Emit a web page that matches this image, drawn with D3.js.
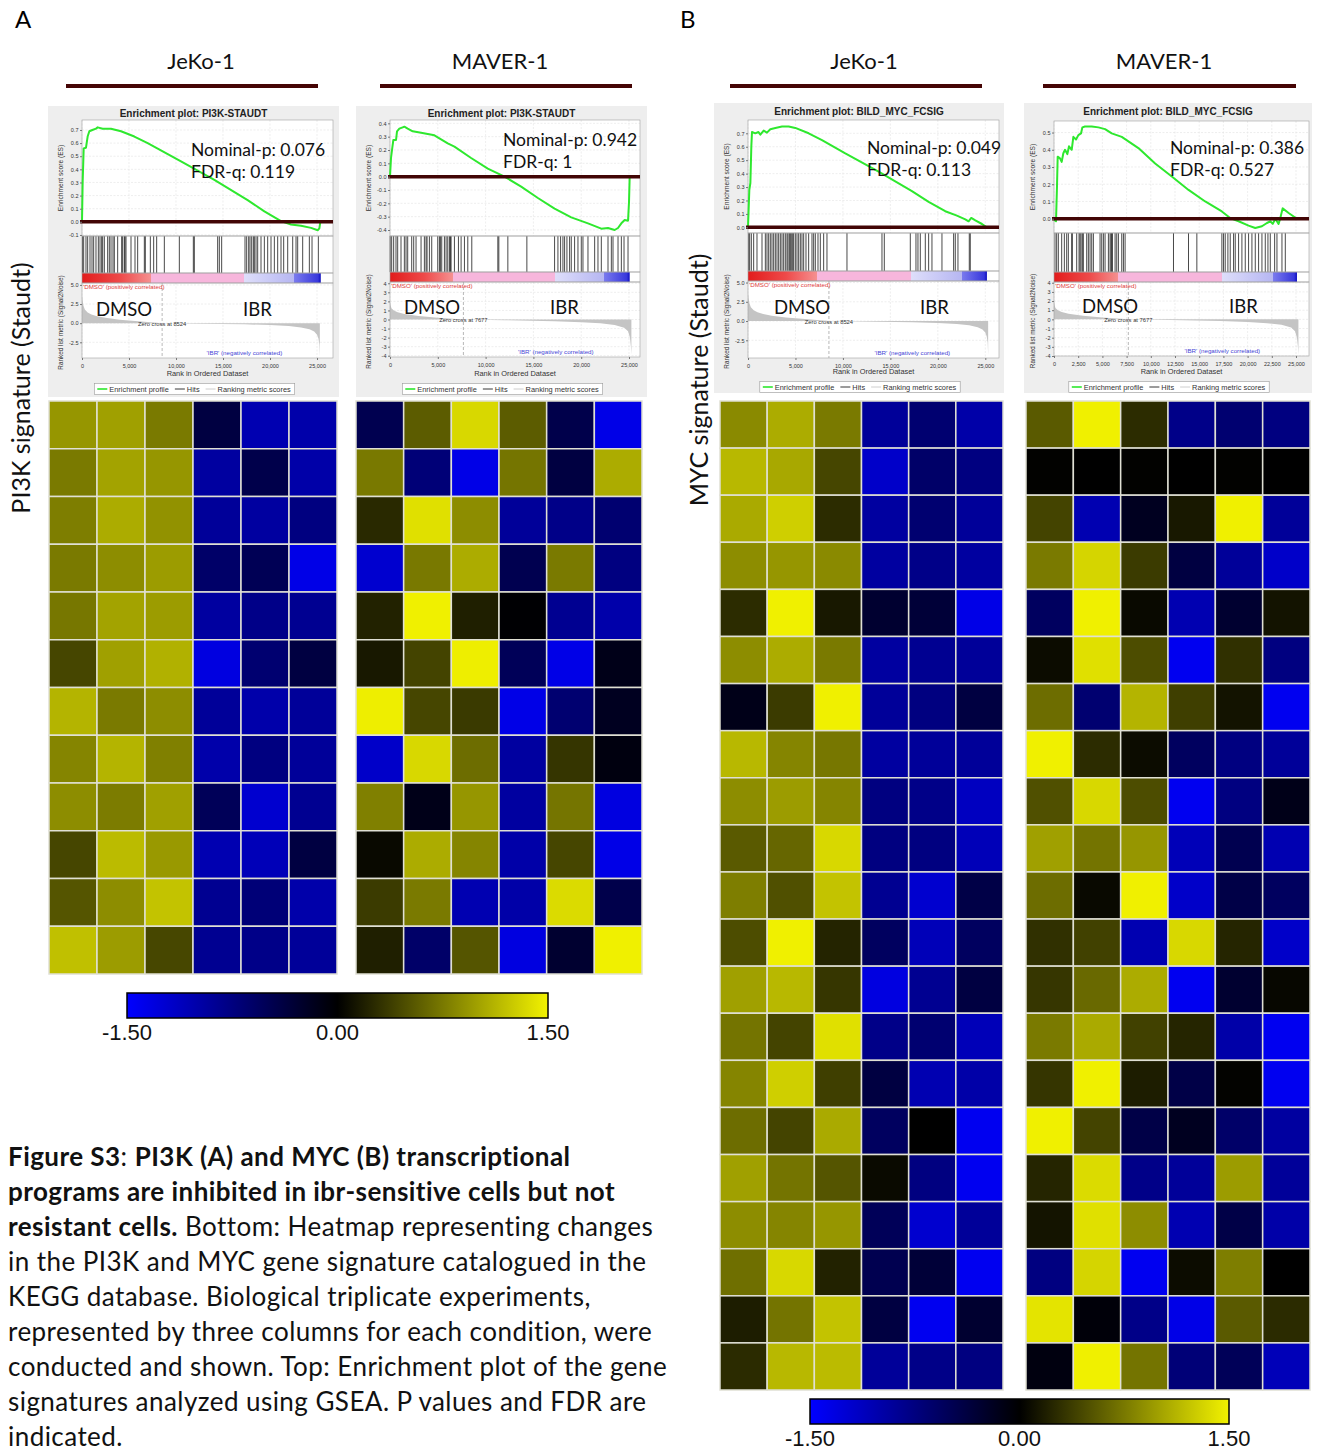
<!DOCTYPE html>
<html>
<head>
<meta charset="utf-8">
<script src="https://cdn.jsdelivr.net/npm/d3@7"></script>
<style>
  body { margin: 0; background: #fff; }
  svg { display: block; }
</style>
</head>
<body>
<div id="fig"></div>
<script>
// ---------- data ----------
var heatCols = ["DMSO 1", "DMSO 2", "DMSO 3", "IBR 1", "IBR 2", "IBR 3"];
var scaleTicks = [-1.5, 0, 1.5];

var heatPi3kJeko = [
  [0.88, 0.94, 0.72, -0.38, -1.04, -1.00],
  [0.72, 0.96, 0.88, -0.94, -0.44, -0.99],
  [0.74, 1.01, 0.86, -0.90, -0.94, -0.75],
  [0.72, 0.83, 0.92, -0.61, -0.50, -1.36],
  [0.70, 0.96, 0.92, -0.94, -0.80, -0.85],
  [0.41, 0.94, 1.04, -1.32, -0.66, -0.38],
  [1.06, 0.72, 0.83, -0.90, -1.00, -0.90],
  [0.78, 1.06, 0.75, -1.00, -0.75, -0.90],
  [0.83, 0.73, 0.94, -0.52, -1.22, -0.85],
  [0.41, 1.10, 0.90, -1.04, -1.08, -0.38],
  [0.50, 0.83, 1.15, -0.85, -0.70, -1.00],
  [1.13, 0.92, 0.42, -0.85, -0.80, -0.90]
];
var heatPi3kMaver = [
  [-0.47, 0.54, 1.27, 0.54, -0.44, -1.36],
  [0.71, -0.70, -1.36, 0.69, -0.38, 1.01],
  [0.24, 1.32, 0.83, -0.90, -0.80, -0.66],
  [-1.22, 0.71, 1.01, -0.47, 0.72, -0.75],
  [0.20, 1.41, 0.18, -0.02, -0.85, -1.00],
  [0.14, 0.40, 1.40, -0.52, -1.36, -0.14],
  [1.40, 0.41, 0.34, -1.36, -0.66, -0.19],
  [-1.18, 1.27, 0.64, -0.94, 0.31, -0.09],
  [0.75, -0.14, 0.88, -0.94, 0.69, -1.32],
  [0.05, 1.01, 0.78, -0.99, 0.41, -1.36],
  [0.35, 0.72, -1.04, -0.99, 1.29, -0.44],
  [0.18, -0.61, 0.50, -1.32, -0.28, 1.41]
];
var heatMycJeko = [
  [0.81, 1.01, 0.72, -0.90, -0.66, -0.99],
  [1.08, 0.99, 0.41, -1.18, -0.61, -0.75],
  [1.00, 1.22, 0.26, -0.94, -0.66, -0.90],
  [0.83, 0.88, 0.81, -0.94, -0.80, -0.94],
  [0.26, 1.41, 0.14, -0.28, -0.33, -1.36],
  [0.83, 1.01, 0.72, -0.94, -0.85, -0.90],
  [-0.14, 0.35, 1.41, -0.90, -0.75, -0.38],
  [1.08, 0.78, 0.70, -0.94, -0.90, -0.90],
  [0.83, 0.92, 0.78, -0.75, -0.80, -1.13],
  [0.53, 0.60, 1.27, -0.75, -0.75, -1.08],
  [0.74, 0.47, 1.15, -0.85, -1.22, -0.42],
  [0.45, 1.41, 0.21, -0.56, -1.08, -0.56],
  [0.94, 1.08, 0.32, -1.32, -0.85, -0.38],
  [0.68, 0.40, 1.32, -0.80, -0.66, -1.08],
  [0.78, 1.22, 0.37, -0.38, -1.04, -0.99],
  [0.64, 0.40, 1.00, -0.56, 0.00, -1.41],
  [0.94, 0.68, 0.50, 0.06, -0.75, -1.41],
  [0.83, 0.78, 0.88, -0.52, -1.22, -0.90],
  [0.65, 1.27, 0.20, -0.47, -0.33, -1.41],
  [0.17, 0.68, 1.15, -0.38, -1.41, -0.28],
  [0.25, 1.08, 1.10, -0.90, -0.80, -0.75]
];
var heatMycMaver = [
  [0.53, 1.41, 0.26, -0.80, -0.66, -0.75],
  [0.01, 0.00, 0.01, 0.00, 0.01, 0.00],
  [0.40, -1.04, -0.19, 0.14, 1.41, -0.90],
  [0.72, 1.25, 0.35, -0.38, -0.90, -1.18],
  [-0.56, 1.41, 0.05, -1.04, -0.28, 0.11],
  [0.07, 1.32, 0.45, -1.41, 0.28, -0.75],
  [0.64, -0.66, 1.06, 0.37, 0.11, -1.41],
  [1.41, 0.26, 0.07, -0.56, -0.75, -0.90],
  [0.47, 1.27, 0.45, -1.41, -0.75, -0.14],
  [0.94, 0.68, 0.88, -1.08, -0.47, -1.04],
  [0.64, 0.05, 1.41, -1.18, -0.42, -0.56],
  [0.28, 0.38, -1.04, 1.27, 0.22, -1.18],
  [0.32, 0.62, 1.01, -1.41, -0.28, 0.04],
  [0.72, 1.00, 0.38, 0.22, -0.99, -1.41],
  [0.31, 1.41, 0.17, -0.42, 0.02, -1.41],
  [1.41, 0.40, -0.42, -0.19, -0.61, -0.94],
  [0.22, 1.29, -0.80, -0.90, 0.92, -0.90],
  [0.12, 1.32, 0.83, -1.04, -0.42, -0.99],
  [-0.75, 1.25, -1.41, 0.07, 0.74, 0.00],
  [1.34, -0.05, -0.80, -1.36, 0.53, 0.25],
  [-0.09, 1.41, 0.68, -0.70, -0.52, -1.08]
];

// running enrichment score: [rank, ES]
var esPi3kJeko = [[0,0],[70,0.30],[180,0.56],[425,0.565],[600,0.65],[780,0.69],[1100,0.70],[1490,0.71],[1670,0.72],[2200,0.71],[3080,0.71],[4150,0.69],[5570,0.65],[6985,0.60],[10530,0.46],[14080,0.32],[17620,0.165],[19400,0.08],[21170,0.005],[22230,-0.02],[23300,-0.03],[24360,-0.046],[25070,-0.064],[25250,-0.05],[25350,0]];
var esPi3kMaver = [[0,0],[105,0.14],[210,0.20],[350,0.275],[630,0.275],[733,0.34],[978,0.36],[1327,0.37],[1500,0.375],[1850,0.36],[2375,0.34],[3250,0.33],[3950,0.32],[4645,0.31],[6040,0.25],[6740,0.225],[8485,0.14],[10230,0.06],[11980,0],[13720,-0.075],[15470,-0.16],[17215,-0.24],[18960,-0.305],[20710,-0.35],[22100,-0.39],[22800,-0.385],[23500,-0.40],[23850,-0.385],[24200,-0.35],[24550,-0.325],[24900,-0.33],[25000,-0.19],[25070,0]];
var esMycJeko = [[0,0],[140,0.28],[250,0.33],[350,0.60],[420,0.71],[770,0.70],[1100,0.71],[1300,0.69],[1650,0.72],[2000,0.705],[2350,0.73],[2880,0.74],[3580,0.75],[4280,0.75],[4985,0.74],[6390,0.70],[7795,0.65],[10250,0.55],[13760,0.415],[17270,0.27],[19030,0.19],[20780,0.12],[22010,0.087],[22890,0.06],[23240,0.045],[23520,0.07],[23950,0.052],[24650,0.025],[25000,0.007],[25170,0]];
var esMycMaver = [[0,0],[100,-0.01],[207,-0.015],[310,0.19],[380,0.36],[620,0.35],[793,0.33],[965,0.38],[1138,0.40],[1380,0.375],[1550,0.42],[1830,0.40],[2000,0.475],[2275,0.46],[2517,0.485],[2790,0.495],[2930,0.53],[3200,0.535],[3900,0.535],[4590,0.53],[5275,0.52],[5965,0.495],[7000,0.475],[8720,0.41],[10450,0.32],[12170,0.245],[13900,0.167],[15620,0.10],[17340,0.042],[18200,0.004],[19070,-0.015],[20100,-0.04],[20790,-0.054],[21480,-0.044],[22000,-0.025],[22340,-0.015],[22600,-0.03],[22860,0],[23200,-0.03],[23380,0.004],[23620,0.06],[24240,0.033],[24760,0.013],[25100,0]];

// gene set hits (rank positions)
var hitsPi3kJeko = [50,177,425,603,851,1064,1241,1489,1738,1915,2092,2199,2376,2730,2908,3085,3298,3440,3794,4220,4326,4503,4574,4681,5213,5638,5922,6631,6738,7270,7624,7943,8759,10354,11844,11950,14432,14609,14857,17340,17517,17730,17872,18049,18226,18333,18510,18688,19042,19397,19752,20106,20461,20815,21170,21454,21880,22412,22766,22943,23475,24184,24468,25142];
var hitsPi3kMaver = [20,175,384,629,803,1152,1501,1676,1851,2270,2479,2724,3248,3597,3771,3876,4121,4365,4994,5168,5273,5413,5692,5867,6041,6216,6321,6390,6740,7159,7438,7787,8136,8555,11279,11384,12327,14317,17216,17565,17844,18089,18263,18507,18787,18961,19310,19660,20009,20184,20708,21406,21755,22104,22803,23152,23327,23851,24200,24479,24898];
var hitsMycJeko = [70,176,351,597,948,1475,1826,2001,2177,2352,2528,2703,2879,3055,3230,3406,3581,3757,3932,4108,4213,4354,4459,4564,4705,4810,4986,5161,5337,5513,5688,5864,6109,6390,6741,6917,7092,7373,7619,7970,8321,10428,14114,14360,17099,17695,17906,18152,18679,19030,19381,20434,21663,21838,22119,23313,23418];
var hitsMycMaver = [103,276,448,793,1069,1310,1483,1827,1896,2345,2586,2689,2793,2931,3034,3379,3551,3724,3896,4069,4758,4931,5103,5276,5620,5793,5896,5965,6034,6310,6482,6655,7000,7172,7345,12344,13896,14758,17344,17516,17689,17964,18206,18551,18723,19068,19413,19758,20102,20447,20792,21137,21482,21826,22102,22344,22792,23033,23550,23895];

// ranked list metric (Signal2Noise): [rank, value]
var metricJeko = [[0,3.6],[60,2.9],[150,2.3],[300,1.8],[600,1.4],[1000,1.15],[1600,0.9],[2500,0.7],[4000,0.45],[6000,0.25],[8524,0],[12000,-0.06],[17300,-0.15],[20000,-0.25],[22000,-0.38],[23300,-0.55],[24200,-0.8],[24700,-1.1],[25000,-1.5],[25150,-2.0],[25250,-2.8],[25300,-4.4]];
var metricMaver = [[0,2.0],[60,1.6],[150,1.25],[400,1.0],[800,0.8],[1500,0.62],[3000,0.4],[5000,0.2],[7677,0],[12000,-0.08],[17200,-0.18],[20000,-0.3],[22000,-0.42],[23500,-0.6],[24500,-0.9],[24900,-1.3],[25100,-2.0],[25200,-3.0],[25250,-3.9]];

// colour band segment ends: red, pink, light blue, blue
var bandPi3kJeko = [7340, 17270, 22590, 25400];
var bandPi3kMaver = [6560, 17220, 22380, 25070];
var bandMycJeko = [7270, 17200, 22540, 25170];
var bandMycMaver = [6650, 17340, 22650, 25100];

var esTicksPi3kJeko = [-0.1, 0, 0.1, 0.2, 0.3, 0.4, 0.5, 0.6, 0.7];
var esTicksPi3kMaver = [-0.4, -0.3, -0.2, -0.1, 0, 0.1, 0.2, 0.3, 0.4];
var esTicksMycJeko = [0, 0.1, 0.2, 0.3, 0.4, 0.5, 0.6, 0.7];
var esTicksMycMaver = [0, 0.1, 0.2, 0.3, 0.4, 0.5];
var metricTicksJeko = [-2.5, 0, 2.5, 5];
var metricTicksMaver = [-4, -3, -2, -1, 0, 1, 2, 3, 4];

// ---------- drawing ----------
var W = 1319, H = 1452;
var svg = d3.select("#fig").append("svg")
    .attr("width", W).attr("height", H)
    .style("font-family", "Lato, sans-serif");

var heatColor = d3.scaleLinear()
    .domain([-1.5, 0, 1.5])
    .range(["#0000ff", "#000000", "#ffff00"])
    .clamp(true);

var gseaFont = "'Liberation Sans', Arial, sans-serif";
var gradCount = 0;

function drawGsea(p) {
    var g = svg.append("g").style("font-family", gseaFont);
    g.append("rect")
        .attr("x", p.box[0]).attr("y", p.box[1])
        .attr("width", p.box[2]).attr("height", p.box[3])
        .attr("fill", "#eeeeee");

    var x = d3.scaleLinear().domain([0, p.xMax]).range([p.left, p.right]);
    var yEs = d3.scaleLinear().domain(p.esDomain).range([p.hitsTop, p.top]);
    var yM = d3.scaleLinear().domain(p.mDomain).range([p.bottom, p.barBottom]);
    var w = p.right - p.left;

    g.append("text")
        .attr("x", p.box[0] + p.box[2] / 2).attr("y", p.titleY)
        .attr("text-anchor", "middle")
        .attr("font-size", 10).attr("font-weight", "bold")
        .attr("fill", "#222")
        .text("Enrichment plot: " + p.title);

    // white plotting areas
    [[p.top, p.hitsTop], [p.hitsTop, p.barTop], [p.barTop, p.barBottom], [p.barBottom, p.bottom]]
        .forEach(function(r) {
            g.append("rect").attr("x", p.left).attr("y", r[0])
                .attr("width", w).attr("height", r[1] - r[0])
                .attr("fill", "#fff");
        });

    var xTicks = d3.range(0, 25001, p.xStep);

    // grid lines
    var grid = g.append("g").attr("stroke", "#e2e2e2").attr("stroke-width", 0.6)
        .attr("stroke-dasharray", "2,1.5");
    xTicks.forEach(function(t) {
        grid.append("line").attr("x1", x(t)).attr("x2", x(t)).attr("y1", p.top).attr("y2", p.hitsTop);
        grid.append("line").attr("x1", x(t)).attr("x2", x(t)).attr("y1", p.barBottom).attr("y2", p.bottom);
    });
    p.esTicks.forEach(function(t) {
        grid.append("line").attr("x1", p.left).attr("x2", p.right).attr("y1", yEs(t)).attr("y2", yEs(t));
    });
    p.mTicks.forEach(function(t) {
        grid.append("line").attr("x1", p.left).attr("x2", p.right).attr("y1", yM(t)).attr("y2", yM(t));
    });

    // ranked list metric
    g.append("path")
        .datum(p.metric)
        .attr("fill", "#c4c4c4")
        .attr("d", d3.area()
            .x(function(d) { return x(d[0]); })
            .y0(yM(0))
            .y1(function(d) { return yM(d[1]); }));

    g.append("line")
        .attr("x1", x(p.zeroCross)).attr("x2", x(p.zeroCross))
        .attr("y1", p.barBottom).attr("y2", p.bottom)
        .attr("stroke", "#9a9a9a").attr("stroke-width", 0.7)
        .attr("stroke-dasharray", "3,2");

    g.append("text")
        .attr("x", x(p.zeroCross)).attr("y", yM(0) + 2.5)
        .attr("text-anchor", "middle").attr("font-size", 5.8).attr("fill", "#333")
        .text("Zero cross at " + p.zeroCross);
    g.append("text")
        .attr("x", p.left + 1).attr("y", p.barBottom + 6)
        .attr("font-size", 6.2).attr("fill", "#e03a3a")
        .text("'DMSO' (positively correlated)");
    g.append("text")
        .attr("x", x(21300)).attr("y", p.bottom - 3)
        .attr("text-anchor", "end")
        .attr("font-size", 6.2).attr("fill", "#4646d6")
        .text("'IBR' (negatively correlated)");

    // colour band
    var gid = "band" + (gradCount++);
    var b = p.band;
    var grad = svg.append("defs").append("linearGradient")
        .attr("id", gid).attr("gradientUnits", "userSpaceOnUse")
        .attr("x1", x(0)).attr("x2", x(b[3])).attr("y1", 0).attr("y2", 0);
    var stops = [
        [0, "#e21c1c"], [b[0] * 0.55, "#ee4a4a"], [b[0], "#f59090"],
        [b[0] + 1, "#f7b6dc"], [b[1], "#f7b6dc"],
        [b[1] + 1, "#dedefa"], [b[2], "#b6b6f2"],
        [b[2] + 1, "#7a7aee"], [b[3] - 300, "#3838dc"], [b[3], "#0c0cbe"]
    ];
    stops.forEach(function(s) {
        grad.append("stop").attr("offset", s[0] / b[3]).attr("stop-color", s[1]);
    });
    g.append("rect")
        .attr("x", x(0)).attr("y", p.barTop)
        .attr("width", x(b[3]) - x(0)).attr("height", p.barBottom - p.barTop)
        .attr("fill", "url(#" + gid + ")");

    // hits
    g.append("g").selectAll("line")
        .data(p.hits)
        .join("line")
        .attr("x1", function(d) { return x(d); })
        .attr("x2", function(d) { return x(d); })
        .attr("y1", p.hitsTop).attr("y2", p.barTop)
        .attr("stroke", "#111").attr("stroke-width", 0.9)
        .attr("stroke-opacity", 0.85);

    // panel borders
    [[p.top, p.hitsTop], [p.hitsTop, p.barTop], [p.barTop, p.barBottom], [p.barBottom, p.bottom]]
        .forEach(function(r) {
            g.append("rect").attr("x", p.left).attr("y", r[0])
                .attr("width", w).attr("height", r[1] - r[0])
                .attr("fill", "none").attr("stroke", "#a0a0a0").attr("stroke-width", 0.6);
        });

    // running ES
    g.append("path")
        .datum(p.es)
        .attr("fill", "none")
        .attr("stroke", "#2ee82e").attr("stroke-width", 2)
        .attr("stroke-linejoin", "round")
        .attr("d", d3.line()
            .x(function(d) { return x(d[0]); })
            .y(function(d) { return yEs(d[1]); }));

    // zero line highlight
    g.append("line")
        .attr("x1", p.left - 2).attr("x2", p.right)
        .attr("y1", yEs(0)).attr("y2", yEs(0))
        .attr("stroke", "#420505").attr("stroke-width", 3.5);

    // axes
    var axEs = g.append("g").attr("transform", "translate(" + p.left + ",0)")
        .call(d3.axisLeft(yEs).tickValues(p.esTicks).tickSize(2)
            .tickFormat(function(d) { return d.toFixed(1); }));
    var axM = g.append("g").attr("transform", "translate(" + p.left + ",0)")
        .call(d3.axisLeft(yM).tickValues(p.mTicks).tickSize(2)
            .tickFormat(function(d) { return d.toFixed(p.mDigits); }));
    var axX = g.append("g").attr("transform", "translate(0," + p.bottom + ")")
        .call(d3.axisBottom(x).tickValues(xTicks).tickSize(2)
            .tickFormat(d3.format(",")));
    [axEs, axM, axX].forEach(function(a) {
        a.select(".domain").remove();
        a.selectAll("line").attr("stroke", "#777");
        a.selectAll("text").attr("font-size", 5.5).attr("fill", "#333")
            .style("font-family", gseaFont);
    });
    axX.selectAll("text").attr("dy", "0.9em");
    axEs.selectAll("text").attr("x", -3.5);
    axM.selectAll("text").attr("x", -3.5);

    g.append("text")
        .attr("transform", "translate(" + (p.left - 19) + "," + ((p.top + p.hitsTop) / 2) + ") rotate(-90)")
        .attr("text-anchor", "middle").attr("font-size", 6.6).attr("fill", "#333")
        .text("Enrichment score (ES)");
    g.append("text")
        .attr("transform", "translate(" + (p.left - 19) + "," + ((p.barBottom + p.bottom) / 2 + 2) + ") rotate(-90)")
        .attr("text-anchor", "middle").attr("font-size", 6.4).attr("fill", "#333")
        .text("Ranked list metric (Signal2Noise)");
    g.append("text")
        .attr("x", (p.left + p.right) / 2).attr("y", p.rankLabelY)
        .attr("text-anchor", "middle").attr("font-size", 7.4).attr("fill", "#333")
        .text("Rank in Ordered Dataset");

    // legend
    var lg = g.append("g");
    var items = [["Enrichment profile", "#2ee82e", 1.6], ["Hits", "#222", 0.9], ["Ranking metric scores", "#c8c8c8", 0.9]];
    var cx = 0;
    items.forEach(function(it) {
        lg.append("line").attr("x1", cx).attr("x2", cx + 10)
            .attr("y1", 0).attr("y2", 0)
            .attr("stroke", it[1]).attr("stroke-width", it[2]);
        var t = lg.append("text").attr("x", cx + 12).attr("y", 2.5)
            .attr("font-size", 7.4).attr("fill", "#333").text(it[0]);
        cx += 12 + t.node().getComputedTextLength() + 6;
    });
    var lw = cx - 3;
    var lx = p.box[0] + p.box[2] / 2 - lw / 2;
    lg.insert("rect", ":first-child")
        .attr("x", -3).attr("y", -5.5).attr("width", lw + 4).attr("height", 11)
        .attr("fill", "#fff").attr("stroke", "#999").attr("stroke-width", 0.6);
    lg.attr("transform", "translate(" + (lx + 2) + "," + p.legendY + ")");

    // annotations
    var ag = svg.append("g").attr("font-size", 17.5).attr("fill", "#111");
    ag.append("text").attr("x", p.statX).attr("y", p.statY).text("Nominal-p: " + p.nominal);
    ag.append("text").attr("x", p.statX).attr("y", p.statY + 22).text("FDR-q: " + p.fdr);
    ag.append("text").attr("x", p.dmsoX).attr("y", p.condY).attr("font-size", 18.5).text("DMSO");
    ag.append("text").attr("x", p.ibrX).attr("y", p.condY).attr("font-size", 18.5).text("IBR");
}

function drawHeat(values, x0, x1, y0, y1) {
    var xb = d3.scaleBand().domain(d3.range(heatCols.length)).range([x0, x1]);
    var yb = d3.scaleBand().domain(d3.range(values.length)).range([y0, y1]);
    svg.append("g").selectAll("g")
        .data(values)
        .join("g")
        .attr("transform", function(d, i) { return "translate(0," + yb(i) + ")"; })
        .selectAll("rect")
        .data(function(d) { return d; })
        .join("rect")
        .attr("x", function(d, j) { return xb(j); })
        .attr("width", xb.bandwidth())
        .attr("height", yb.bandwidth())
        .attr("fill", function(d) { return heatColor(d); })
        .attr("stroke", "#e0e0d4")
        .attr("stroke-width", 1.5);
}

function drawScale(x0, x1, y0, labelY) {
    var s = d3.scaleLinear().domain([-1.5, 1.5]).range([x0, x1]);
    var id = "scaleGrad" + (gradCount++);
    var grad = svg.append("defs").append("linearGradient").attr("id", id);
    grad.append("stop").attr("offset", 0).attr("stop-color", "#0000ff");
    grad.append("stop").attr("offset", 0.5).attr("stop-color", "#000000");
    grad.append("stop").attr("offset", 1).attr("stop-color", "#f2f200");
    svg.append("rect")
        .attr("x", x0).attr("y", y0).attr("width", x1 - x0).attr("height", 25)
        .attr("fill", "url(#" + id + ")")
        .attr("stroke", "#000").attr("stroke-width", 1.5);
    svg.append("g").selectAll("text")
        .data(scaleTicks)
        .join("text")
        .attr("x", function(d) { return s(d); })
        .attr("y", labelY)
        .attr("text-anchor", "middle")
        .attr("font-size", 22)
        .style("font-family", "'Liberation Sans', Arial, sans-serif")
        .attr("fill", "#111")
        .text(function(d) { return d.toFixed(2); });
}

// panel letters and headers
svg.append("text").attr("x", 15).attr("y", 28).attr("font-size", 24).text("A");
svg.append("text").attr("x", 680).attr("y", 28).attr("font-size", 24).text("B");

[["JeKo-1", 201, 66, 318], ["MAVER-1", 500, 380, 632], ["JeKo-1", 864, 730, 982], ["MAVER-1", 1164, 1043, 1296]]
    .forEach(function(h) {
        svg.append("text").attr("x", h[1]).attr("y", 69).attr("text-anchor", "middle")
            .attr("font-size", 22).attr("fill", "#111").text(h[0]);
        svg.append("line").attr("x1", h[2]).attr("x2", h[3]).attr("y1", 86).attr("y2", 86)
            .attr("stroke", "#450404").attr("stroke-width", 4);
    });

svg.append("text")
    .attr("transform", "translate(30,388) rotate(-90)")
    .attr("text-anchor", "middle").attr("font-size", 25).attr("fill", "#111")
    .text("PI3K signature (Staudt)");
svg.append("text")
    .attr("transform", "translate(708,380) rotate(-90)")
    .attr("text-anchor", "middle").attr("font-size", 25).attr("fill", "#111")
    .text("MYC signature (Staudt)");

drawGsea({
    box: [48, 106, 291, 291], title: "PI3K-STAUDT", titleY: 116.5,
    left: 82, right: 333, xMax: 26700, xStep: 5000,
    top: 120, hitsTop: 236, barTop: 273, barBottom: 283, bottom: 358,
    esDomain: [-0.108, 0.776], mDomain: [-4.55, 5.25], mDigits: 1,
    esTicks: esTicksPi3kJeko, mTicks: metricTicksJeko,
    es: esPi3kJeko, hits: hitsPi3kJeko, metric: metricJeko, band: bandPi3kJeko, zeroCross: 8524,
    rankLabelY: 375.5, legendY: 389,
    nominal: "0.076", fdr: "0.119", statX: 191, statY: 156,
    dmsoX: 96, ibrX: 243, condY: 316
});
drawGsea({
    box: [356, 106, 291, 291], title: "PI3K-STAUDT", titleY: 116.5,
    left: 390, right: 640, xMax: 26150, xStep: 5000,
    top: 120, hitsTop: 236, barTop: 272, barBottom: 282, bottom: 357,
    esDomain: [-0.445, 0.425], mDomain: [-4.14, 4.14], mDigits: 0,
    esTicks: esTicksPi3kMaver, mTicks: metricTicksMaver,
    es: esPi3kMaver, hits: hitsPi3kMaver, metric: metricMaver, band: bandPi3kMaver, zeroCross: 7677,
    rankLabelY: 375.5, legendY: 389,
    nominal: "0.942", fdr: "1", statX: 503, statY: 146,
    dmsoX: 404, ibrX: 550, condY: 313.5
});
drawGsea({
    box: [714, 103, 290, 290], title: "BILD_MYC_FCSIG", titleY: 115,
    left: 748, right: 999, xMax: 26443, xStep: 5000,
    top: 120, hitsTop: 233, barTop: 271, barBottom: 281, bottom: 358,
    esDomain: [-0.042, 0.799], mDomain: [-4.8, 5.2], mDigits: 1,
    esTicks: esTicksMycJeko, mTicks: metricTicksJeko,
    es: esMycJeko, hits: hitsMycJeko, metric: metricJeko, band: bandMycJeko, zeroCross: 8524,
    rankLabelY: 374, legendY: 387,
    nominal: "0.049", fdr: "0.113", statX: 867, statY: 154,
    dmsoX: 774, ibrX: 920, condY: 314
});
drawGsea({
    box: [1024, 103, 288, 290], title: "BILD_MYC_FCSIG", titleY: 115,
    left: 1054, right: 1309, xMax: 26343, xStep: 2500,
    top: 121, hitsTop: 233, barTop: 272, barBottom: 282, bottom: 356,
    esDomain: [-0.083, 0.567], mDomain: [-4.0, 4.08], mDigits: 0,
    esTicks: esTicksMycMaver, mTicks: metricTicksMaver,
    es: esMycMaver, hits: hitsMycMaver, metric: metricMaver, band: bandMycMaver, zeroCross: 7677,
    rankLabelY: 374, legendY: 387,
    nominal: "0.386", fdr: "0.527", statX: 1170, statY: 154,
    dmsoX: 1082, ibrX: 1229, condY: 313
});

drawHeat(heatPi3kJeko, 49, 337, 401, 974);
drawHeat(heatPi3kMaver, 356, 642, 401, 974);
drawHeat(heatMycJeko, 720, 1003, 401, 1390);
drawHeat(heatMycMaver, 1026, 1310, 401, 1390);

drawScale(127, 548, 993, 1040);
drawScale(810, 1229, 1399, 1446);

// caption
var caption = [
    [["Figure S3", true], [": ", false], ["PI3K (A) and MYC (B) transcriptional", true]],
    [["programs are inhibited in ibr-sensitive cells but not", true]],
    [["resistant cells.", true], ["  Bottom: Heatmap representing changes", false]],
    [["in the PI3K and MYC gene signature catalogued in the", false]],
    [["KEGG database. Biological triplicate experiments,", false]],
    [["represented by three columns for each condition, were", false]],
    [["conducted and shown. Top: Enrichment plot of the gene", false]],
    [["signatures analyzed using GSEA. P values and FDR are", false]],
    [["indicated.", false]]
];
var cap = svg.append("g").attr("font-size", 26).attr("fill", "#111")
    .style("letter-spacing", "0.45px")
    .style("white-space", "pre");
caption.forEach(function(line, i) {
    var t = cap.append("text").attr("x", 8).attr("y", 1166 + i * 35);
    line.forEach(function(seg) {
        t.append("tspan").attr("font-weight", seg[1] ? "bold" : "normal").text(seg[0]);
    });
});
</script>
</body>
</html>
